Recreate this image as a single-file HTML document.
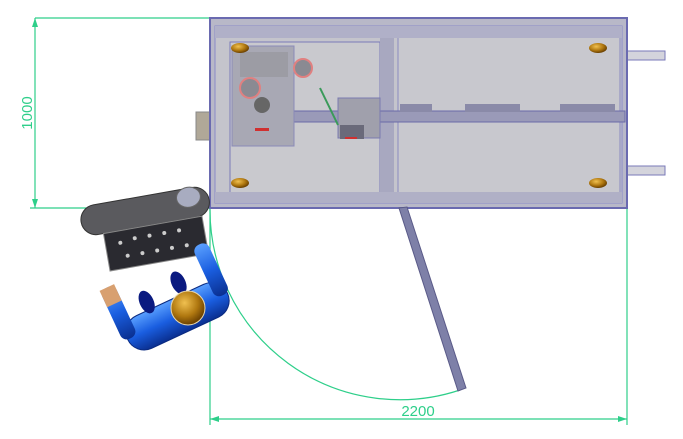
<!DOCTYPE html>
<html><head><meta charset="utf-8"><style>
html,body{margin:0;padding:0;background:#fff;}
svg{display:block;}
</style></head><body>
<svg width="683" height="439" viewBox="0 0 683 439" xmlns="http://www.w3.org/2000/svg">
<defs>
<radialGradient id="gold" cx="40%" cy="35%" r="65%"><stop offset="0" stop-color="#f0c050"/><stop offset="0.6" stop-color="#b07810"/><stop offset="1" stop-color="#6a4000"/></radialGradient>
<linearGradient id="blue" x1="0" y1="0" x2="0" y2="1"><stop offset="0" stop-color="#5aa0ff"/><stop offset="0.5" stop-color="#1a5ee0"/><stop offset="1" stop-color="#0a2f90"/></linearGradient>
</defs>
<!-- dimension lines -->
<g stroke="#2ecf8a" stroke-width="1.2" fill="none">
<line x1="35" y1="18" x2="212" y2="18"/>
<line x1="35" y1="18" x2="35" y2="208"/>
<line x1="30" y1="208" x2="212" y2="208"/>
<line x1="210" y1="208" x2="210" y2="425"/>
<line x1="627" y1="208" x2="627" y2="425"/>
<line x1="210" y1="419" x2="627" y2="419"/>
<path d="M210,208 A190,190 0 0 0 460,390"/>
</g>
<g fill="#2ecf8a">
<path d="M35,18 l-3,9 l6,0z"/><path d="M35,208 l-3,-9 l6,0z"/>
<path d="M210,419 l9,-3 l0,6z"/><path d="M627,419 l-9,-3 l0,6z"/>
</g>
<text x="32" y="113" fill="#2ecf8a" font-family="Liberation Sans, sans-serif" font-size="15" text-anchor="middle" transform="rotate(-90 32 113)">1000</text>
<text x="418" y="416" fill="#2ecf8a" font-family="Liberation Sans, sans-serif" font-size="15" text-anchor="middle">2200</text>

<!-- pegs right -->
<rect x="625" y="51" width="40" height="9" fill="#d4d4dc" stroke="#7a7ab8"/>
<rect x="625" y="166" width="40" height="9" fill="#d4d4dc" stroke="#7a7ab8"/>
<!-- left block -->
<rect x="196" y="112" width="15" height="28" fill="#b0a898" stroke="#888"/>
<!-- main box -->
<rect x="210" y="18" width="417" height="190" fill="#b8b8c8" stroke="#6a6ab0" stroke-width="2"/>
<rect x="215" y="26" width="407" height="177" fill="#c4c4cc" stroke="#8a8ac8"/>
<rect x="230" y="42" width="150" height="152" fill="#c9c9ce" stroke="#7a7ab8"/>
<rect x="380" y="28" width="14" height="172" fill="#a8a8c0"/>
<rect x="398" y="30" width="222" height="168" fill="#c8c8ce" stroke="#8a8ac0"/>
<rect x="215" y="26" width="407" height="12" fill="#b0b0c8"/>
<rect x="215" y="192" width="407" height="11" fill="#b0b0c6"/>
<!-- shaft -->
<rect x="290" y="111" width="335" height="11" fill="#9a9ab8" stroke="#6a6aa8"/>
<rect x="400" y="104" width="32" height="8" fill="#8a8aa8"/>
<rect x="465" y="104" width="55" height="8" fill="#8a8aa8"/>
<rect x="560" y="104" width="55" height="8" fill="#8a8aa8"/>
<!-- left mechanism -->
<rect x="232" y="46" width="62" height="100" fill="#a8a8b4" stroke="#8a8ab8"/>
<rect x="240" y="52" width="48" height="25" fill="#9c9ca4"/>
<circle cx="250" cy="88" r="10" fill="#8a8a92" stroke="#e08080" stroke-width="2"/>
<circle cx="303" cy="68" r="9" fill="#8a8a92" stroke="#e08080" stroke-width="2"/>
<circle cx="262" cy="105" r="8" fill="#666"/>
<rect x="255" y="128" width="14" height="3" fill="#d03030"/>
<!-- center block -->
<rect x="338" y="98" width="42" height="40" fill="#a0a0ac" stroke="#7a7ab0"/>
<rect x="340" y="125" width="24" height="14" fill="#6a6a7a"/>
<rect x="345" y="137" width="12" height="2" fill="#d03030"/>
<line x1="320" y1="88" x2="338" y2="125" stroke="#3a9a5a" stroke-width="2"/>
<!-- bolts -->
<g fill="url(#gold)">
<ellipse cx="240" cy="48" rx="9" ry="5"/><ellipse cx="240" cy="183" rx="9" ry="5"/>
<ellipse cx="598" cy="48" rx="9" ry="5"/><ellipse cx="598" cy="183" rx="9" ry="5"/>
</g>
<!-- door -->
<polygon points="399,208 407,207 466,388 458,391" fill="#7e80a8" stroke="#5a5a88"/>
<!-- robot -->
<g transform="rotate(-10 145 210)">
<rect x="80" y="196" width="130" height="30" rx="15" fill="#5a5a5e" stroke="#333"/>
<ellipse cx="190" cy="205" rx="12" ry="10" fill="#a8acc0" stroke="#666"/>
<rect x="100" y="226" width="100" height="38" fill="#2a2a30" stroke="#888"/>
<g fill="#ccc"><circle cx="115" cy="238" r="2"/><circle cx="130" cy="236" r="2"/><circle cx="145" cy="236" r="2"/><circle cx="160" cy="236" r="2"/><circle cx="175" cy="236" r="2"/><circle cx="120" cy="252" r="2"/><circle cx="135" cy="252" r="2"/><circle cx="150" cy="252" r="2"/><circle cx="165" cy="252" r="2"/><circle cx="180" cy="252" r="2"/></g>
</g>
<g transform="rotate(-25 170 300)">
<rect x="115" y="300" width="110" height="36" rx="18" fill="url(#blue)" stroke="#0a2a80"/>
<rect x="110" y="262" width="16" height="56" rx="7" fill="url(#blue)"/>
<rect x="110" y="262" width="16" height="18" fill="#d8a070"/>
<rect x="212" y="262" width="16" height="56" rx="7" fill="url(#blue)"/>
<ellipse cx="148" cy="292" rx="7" ry="12" fill="#0a1a80"/>
<ellipse cx="185" cy="288" rx="7" ry="12" fill="#0a1a80"/>
</g>
<circle cx="188" cy="308" r="17" fill="url(#gold)" stroke="#e8d8b0"/>
</svg>
</body></html>
